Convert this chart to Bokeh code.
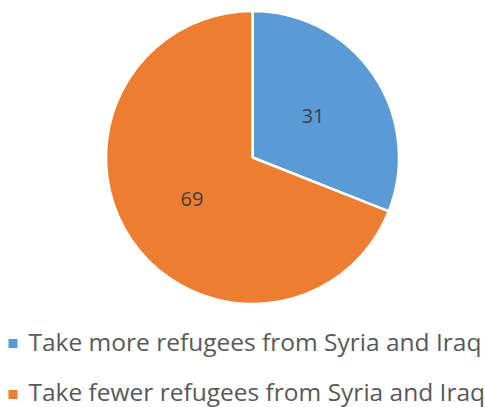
import math
from bokeh.plotting import figure
from bokeh.models import Range1d, ColumnDataSource
from bokeh.core.properties import value
from bokeh.embed import file_html
from bokeh.resources import INLINE

categories = ["Take more refugees from Syria and Iraq",
              "Take fewer refugees from Syria and Iraq"]
values = [31, 69]
colors = ["#5B9BD5", "#ED7D31"]

W, H = 485, 407
p = figure(width=W, height=H, output_backend="svg", toolbar_location=None,
           x_range=Range1d(0, W), y_range=Range1d(0, H),
           min_border=0)
p.axis.visible = False
p.grid.visible = False
p.outline_line_color = None
p.background_fill_color = "white"
p.border_fill_color = "white"

def sy(y):
    return H - y

cx, cy, R = 252, sy(157), 146.5
total = sum(values)
starts, ends, lx, ly = [], [], [], []
cur = 90.0
for v in values:
    sweep = 360.0 * v / total
    end = cur
    start = cur - sweep
    starts.append(math.radians(start))
    ends.append(math.radians(end))
    mid = math.radians((start + end) / 2)
    lx.append(cx + 0.5 * R * math.cos(mid))
    ly.append(cy + 0.5 * R * math.sin(mid))
    cur = start

src = ColumnDataSource(dict(start=starts, end=ends, color=colors,
                            lx=lx, ly=ly, lab=[str(v) for v in values]))
p.wedge(x=cx, y=cy, radius=R, start_angle="start", end_angle="end",
        fill_color="color", line_color="white", line_width=2.5, source=src)
p.text(x="lx", y="ly", text="lab", source=src, text_align="center",
       text_baseline="middle", text_color="#404040", text_font_size="20px",
       text_font=value("Open Sans"))

# legend
leg = ColumnDataSource(dict(x=[12.5, 12.5], y=[sy(343), sy(394)],
                            ty=[sy(341), sy(390.5)], color=colors,
                            tx=[28, 28], lab=categories))
p.scatter(x="x", y="y", marker="square", size=9, fill_color="color",
          line_color=None, source=leg)
p.text(x="tx", y="ty", text="lab", source=leg, text_align="left",
       text_baseline="middle", text_color="#595959", text_font_size="24.5px",
       text_font=value("Open Sans"))

open("out.html", "w").write(file_html(p, INLINE))
